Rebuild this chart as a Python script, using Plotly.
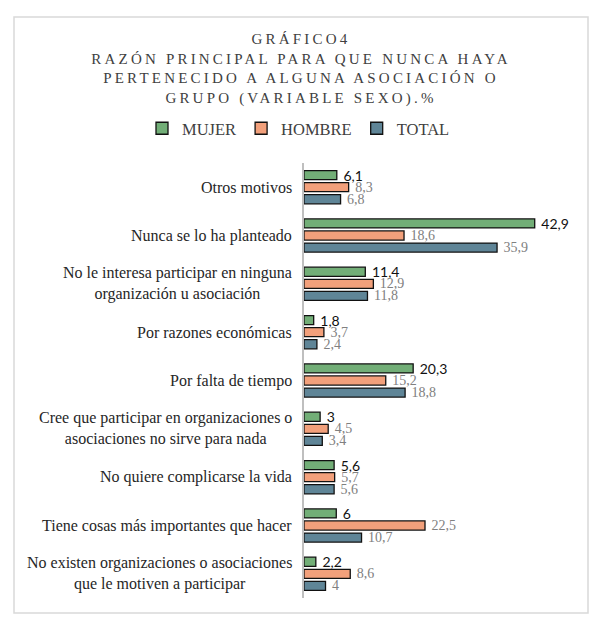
import plotly.graph_objects as go

categories = [
    "Otros motivos",
    "Nunca se lo ha planteado",
    "No le interesa participar en ninguna<br>organización u asociación",
    "Por razones económicas",
    "Por falta de tiempo",
    "Cree que participar en organizaciones o<br>asociaciones no sirve para nada",
    "No quiere complicarse la vida",
    "Tiene cosas más importantes que hacer",
    "No existen organizaciones o asociaciones<br>que le motiven a participar",
]
mujer = [6.1, 42.9, 11.4, 1.8, 20.3, 3, 5.6, 6, 2.2]
hombre = [8.3, 18.6, 12.9, 3.7, 15.2, 4.5, 5.7, 22.5, 8.6]
total = [6.8, 35.9, 11.8, 2.4, 18.8, 3.4, 5.6, 10.7, 4]

W, H = 602, 628
ML, MR, MT, MB = 304, 56, 163, 30
pw = W - ML - MR
ph = H - MT - MB

serif = "Liberation Serif"
sans = "Lato"


def spaced(txt, px=3.2):
    return '<span style="letter-spacing:%.1fpx">%s</span>' % (px, txt)


def bar(name, vals, color, font):
    return go.Bar(
        name=name, y=categories, x=vals, orientation="h",
        marker=dict(color=color, line=dict(color="#111111", width=1.3)),
        texttemplate="\u00a0%{x}", textposition="outside", cliponaxis=False,
        constraintext="none", textfont=font,
    )


fig = go.Figure()
fig.add_trace(bar("MUJER", mujer, "#72AE77",
                  dict(family=sans, size=14, color="#111111")))
fig.add_trace(bar("HOMBRE", hombre, "#F2A07B",
                  dict(family=serif, size=14, color="#808080")))
fig.add_trace(bar("TOTAL", total, "#5F8597",
                  dict(family=serif, size=14, color="#808080")))

# category labels: right-aligned block, centered lines
for c in categories:
    fig.add_annotation(
        x=0, y=c, xref="paper", yref="y", text=c, showarrow=False,
        xanchor="right", xshift=-10, align="center",
        font=dict(family=serif, size=16, color="#262626"),
    )

# outer frame
fig.add_shape(
    type="rect", xref="paper", yref="paper",
    x0=(14 - ML) / pw, x1=(588 - ML) / pw,
    y0=(H - MB - 613) / ph, y1=(H - MB - 17) / ph,
    line=dict(color="#D9D9D9", width=1.5), layer="below",
)

title = "<br>".join(spaced(t) for t in [
    "GRÁFICO4",
    "RAZÓN PRINCIPAL PARA QUE NUNCA HAYA",
    "PERTENECIDO A ALGUNA ASOCIACIÓN O",
    "GRUPO (VARIABLE SEXO).%",
])

fig.update_layout(
    width=W, height=H,
    margin=dict(l=ML, r=MR, t=MT, b=MB, autoexpand=False),
    paper_bgcolor="white", plot_bgcolor="white",
    separators=",.",
    barmode="group", bargap=0.25, bargroupgap=0.25,
    title=dict(text=title, x=0.5, xref="container", xanchor="center",
               y=1 - 44 / H, yanchor="top", yref="container",
               font=dict(family=serif, size=15, color="#404040")),
    legend=dict(orientation="h", xref="paper", x=(142 - ML) / pw,
                xanchor="left", yref="paper", y=1 + (MT - 111) / ph,
                yanchor="top",
                font=dict(family=serif, size=16.5, color="#404040"),
                itemwidth=30, traceorder="normal"),
    showlegend=True,
)
fig.update_xaxes(range=[0, 45], visible=False)
fig.update_yaxes(autorange="reversed", showticklabels=False, ticks="",
                 showline=True, linecolor="#BFBFBF", linewidth=1.5,
                 showgrid=False)

fig.write_html("out.html", config={"displayModeBar": False},
               post_script="document.body.style.margin='0';")
